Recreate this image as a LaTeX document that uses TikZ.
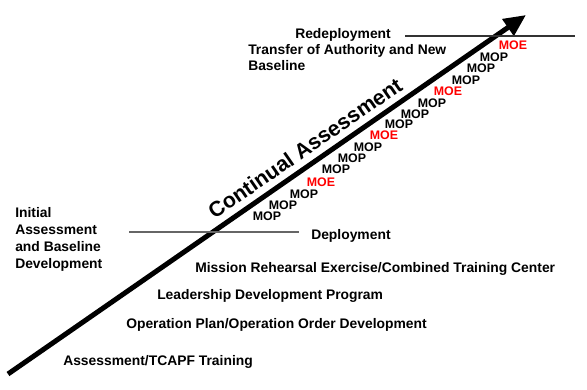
\documentclass[tikz,border=0pt]{standalone}
\usepackage{fontspec}
\setmainfont{Liberation Sans}
\usepackage{tikz}
\usetikzlibrary{arrows.meta}

\tikzset{
  phase/.style={font=\bfseries\fontsize{10.4}{12.75}\selectfont,inner sep=0pt,align=left},
  MOP/.style={font=\bfseries\fontsize{9.3}{11}\selectfont,inner sep=0pt},
  MOE/.style={MOP,text=red},
  milestone/.style={line width=0.8pt},
}

\begin{document}
\begin{tikzpicture}[x=0.75pt,y=-0.75pt]
  \useasboundingbox (0,0) rectangle (587,390);
  % the long arrow
  \coordinate (start) at (8,374);
  \coordinate (tip) at (526,15);
  \draw[line width=3.75pt,-{Triangle[length=16.5pt,width=14.5pt]}] (start) -- (tip);
  \node[font=\bfseries\fontsize{16}{19}\selectfont,rotate=34.6,inner sep=0pt] (ca) at (305,148) {Continual Assessment};
  %
  \coordinate (dep-l) at (129,232);
  \coordinate (dep-r) at (299,232);
  \draw[milestone,black!60] (dep-l) -- (dep-r);
  \coordinate (redep-l) at (405,36);
  \coordinate (redep-r) at (575,36);
  \draw[milestone,black!80] (redep-l) -- (redep-r);
  %
  \node[phase,anchor=base west] (redep) at (295,38) {Redeployment};
  \node[phase,anchor=north west,font=\bfseries\fontsize{10.4}{12}\selectfont] (toa) at (248,44) {Transfer of Authority and New\\Baseline};
  \node[phase,anchor=north west] (init) at (15,207) {Initial\\Assessment\\and Baseline\\Development};
  \node[phase,anchor=base west] (dep) at (311,239) {Deployment};
  \node[phase,anchor=base west] (mre) at (195,272) {Mission Rehearsal Exercise/Combined Training Center};
  \node[phase,anchor=base west] (ldp) at (157,299) {Leadership Development Program};
  \node[phase,anchor=base west] (opord) at (126,328) {Operation Plan/Operation Order Development};
  \node[phase,anchor=base west] (tcapf) at (63,365) {Assessment/TCAPF Training};
  % measures along the arrow
  \foreach \x/\y/\m [count=\i] in {267/216/MOP,283/205/MOP,304/194/MOP,321/182/MOE,
      336/169/MOP,352/158/MOP,368/147/MOP,384/135/MOE,
      399/124/MOP,415/114/MOP,432/103/MOP,448/91/MOE,
      466/80/MOP,481/68/MOP,494/57/MOP,513/45/MOE}
    \node[\m] (m\i) at (\x,\y) {\m};
\end{tikzpicture}
\end{document}
